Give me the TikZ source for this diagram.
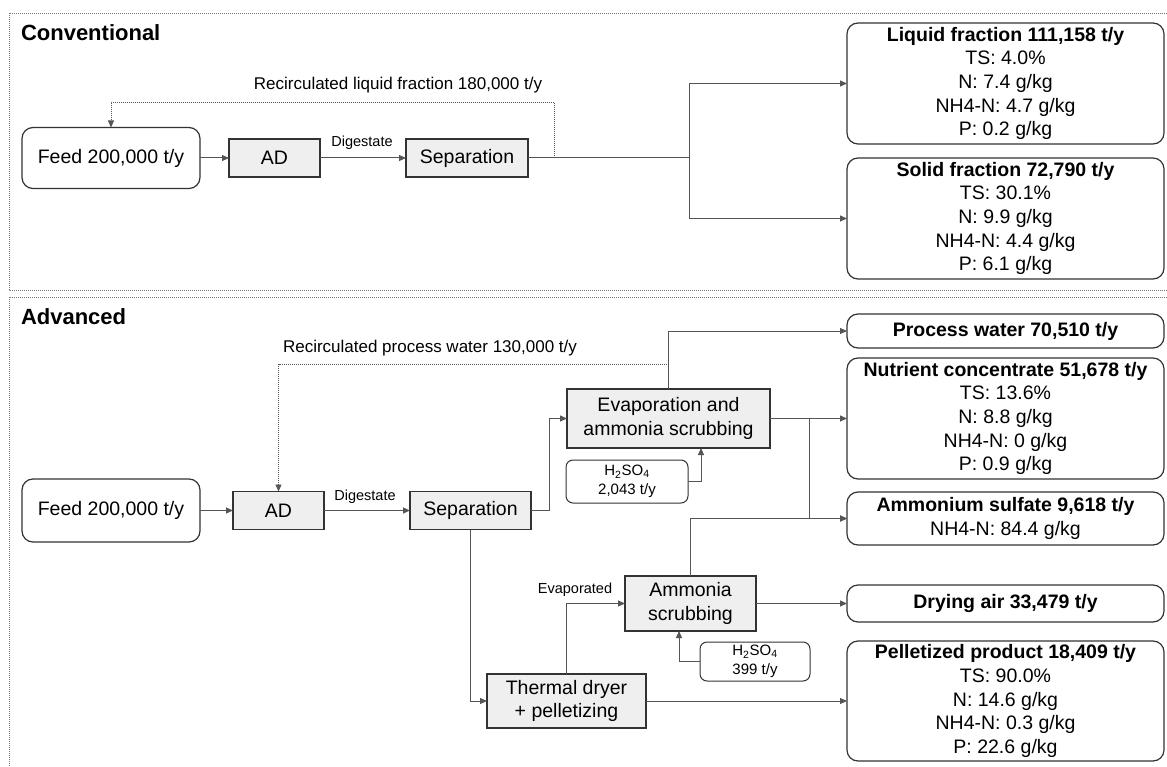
\documentclass[tikz,border=0pt]{standalone}
\usepackage{fontspec}
\setmainfont{Liberation Sans}
\usetikzlibrary{arrows.meta,calc}
\definecolor{boxgray}{HTML}{EFEFEF}
\definecolor{linegray}{HTML}{555555}
\definecolor{edgegray}{HTML}{333333}
\definecolor{framegray}{HTML}{777777}
\begin{document}
\begin{tikzpicture}[x=1pt,y=-1pt,
  every node/.style={inner sep=0pt, outer sep=0pt},
  base/.style={font=\fontsize{19.5}{23.7}\selectfont, align=center, draw=edgegray, line width=1.2pt},
  procbox/.style={base, fill=boxgray},
  roundbox/.style={base, fill=white, rounded corners=11pt},
  chembox/.style={draw=edgegray, line width=1pt, rounded corners=7pt, fill=white, font=\fontsize{15}{19}\selectfont, align=center},
  smalllabel/.style={font=\fontsize{14.5}{17}\selectfont},
  recirclabel/.style={font=\fontsize{17}{20}\selectfont},
  sectitle/.style={font=\fontsize{22}{26}\selectfont\bfseries, anchor=west},
  conn/.style={draw=linegray, line width=1pt},
  arr/.style={conn, -{Triangle[length=7pt,width=6pt]}},
  recirc/.style={draw=linegray, line width=0.9pt, dash pattern=on 1pt off 1pt, -{Triangle[length=7pt,width=6pt]}},
  frame/.style={draw=framegray, line width=0.9pt, dash pattern=on 1pt off 1pt}
]
\useasboundingbox (0,0) rectangle (1167,767);
\clip (0,0) rectangle (1167,767);

% frames
\draw[frame] (9,13) rectangle (1180,290);
\draw[frame] (9,297) rectangle (1180,790);

% ---------------- Conventional ----------------
\node[sectitle] (tconv) at (21,33) {Conventional};

\node[roundbox, minimum width=178pt, minimum height=61pt] (cfeed) at (111,158) {Feed 200,000 t/y};
\node[procbox, minimum width=91pt, minimum height=38pt] (cad) at (274.5,158) {AD};
\node[procbox, minimum width=122pt, minimum height=38pt] (csep) at (467,158) {Separation};
\node[roundbox, minimum width=317pt, minimum height=121pt] (cliq) at (1005.5,83.5)
  {\textbf{Liquid fraction 111,158 t/y}\\TS: 4.0\%\\N: 7.4 g/kg\\NH4-N: 4.7 g/kg\\P: 0.2 g/kg};
\node[roundbox, minimum width=317pt, minimum height=121pt] (csol) at (1005.5,218.5)
  {\textbf{Solid fraction 72,790 t/y}\\TS: 30.1\%\\N: 9.9 g/kg\\NH4-N: 4.4 g/kg\\P: 6.1 g/kg};

\node[smalllabel] (cdig) at (362,143) {Digestate};
\node[recirclabel] (crl) at (398,85) {Recirculated liquid fraction 180,000 t/y};

\coordinate (cj1) at (554,158);
\coordinate (cj2) at (689,158);

\draw[arr] (cfeed.east) -- (cad.west);
\draw[arr] (cad.east) -- (csep.west);
\draw[conn] (csep.east) -- (cj2);
\draw[arr] (cj2) |- (cliq.west);
\draw[arr] (cj2) |- (csol.west);
\draw[recirc] (cj1) -- (554,102) -| (cfeed.north);

% ---------------- Advanced ----------------
\node[sectitle] (tadv) at (21,317) {Advanced};

\node[roundbox, minimum width=178pt, minimum height=63pt] (afeed) at (111,510.5) {Feed 200,000 t/y};
\node[procbox, minimum width=91pt, minimum height=38pt] (aad) at (278.5,510.5) {AD};
\node[procbox, minimum width=121pt, minimum height=38pt] (asep) at (470.5,510.5) {Separation};
\node[procbox, minimum width=203pt, minimum height=59pt] (evap) at (668.5,418.5) {Evaporation and\\ammonia scrubbing};
\node[chembox, minimum width=122pt, minimum height=43pt] (h2a) at (627,481.5) {H\textsubscript{2}SO\textsubscript{4}\\2,043 t/y};
\node[procbox, minimum width=131pt, minimum height=55pt] (ammscr) at (690.5,603.5) {Ammonia\\scrubbing};
\node[chembox, minimum width=110pt, minimum height=39pt] (h2b) at (755,661.5) {H\textsubscript{2}SO\textsubscript{4}\\399 t/y};
\node[procbox, minimum width=159pt, minimum height=54pt] (therm) at (566.5,701) {Thermal dryer\\+ pelletizing};

\node[roundbox, minimum width=317pt, minimum height=34pt] (pw) at (1005.5,331) {\textbf{Process water 70,510 t/y}};
\node[roundbox, minimum width=317pt, minimum height=121pt] (nut) at (1005.5,418.5)
  {\textbf{Nutrient concentrate 51,678 t/y}\\TS: 13.6\%\\N: 8.8 g/kg\\NH4-N: 0 g/kg\\P: 0.9 g/kg};
\node[roundbox, minimum width=317pt, minimum height=53pt] (ams) at (1005.5,518.5)
  {\textbf{Ammonium sulfate 9,618 t/y}\\NH4-N: 84.4 g/kg};
\node[roundbox, minimum width=317pt, minimum height=37pt] (dry) at (1005.5,603.5) {\textbf{Drying air 33,479 t/y}};
\node[roundbox, minimum width=317pt, minimum height=120pt] (pel) at (1005.5,701)
  {\textbf{Pelletized product 18,409 t/y}\\TS: 90.0\%\\N: 14.6 g/kg\\NH4-N: 0.3 g/kg\\P: 22.6 g/kg};

\node[smalllabel] (adig) at (365,497) {Digestate};
\node[smalllabel] (aevap) at (575,590) {Evaporated};
\node[recirclabel] (arl) at (430,348) {Recirculated process water 130,000 t/y};

\coordinate (aj1) at (549,510.5);
\coordinate (aj2) at (669,364);
\coordinate (aj3) at (809,418.5);

\draw[arr] (afeed.east) -- (aad.west);
\draw[arr] (aad.east) -- (asep.west);
\draw[conn] (asep.east) -- (aj1);
\draw[arr] (aj1) |- (evap.west);
\draw[arr] (evap.north) |- (pw.west);
\draw[recirc] (aj2) -| (aad.north);
\draw[arr] (evap.east) -- (nut.west);
\draw[arr] (aj3) |- (ams.west);
\draw[arr] (h2a.east) -| ($(evap.south)+(32.5,0)$);
\draw[arr] (ammscr.north) |- (ams.west);
\draw[arr] (ammscr.east) -- (dry.west);
\draw[arr] (h2b.west) -| ($(ammscr.south)+(-11.5,0)$);
\draw[arr] (asep.south) |- (therm.west);
\draw[arr] (therm.north) |- (ammscr.west);
\draw[arr] (therm.east) -- (pel.west);
\end{tikzpicture}
\end{document}
